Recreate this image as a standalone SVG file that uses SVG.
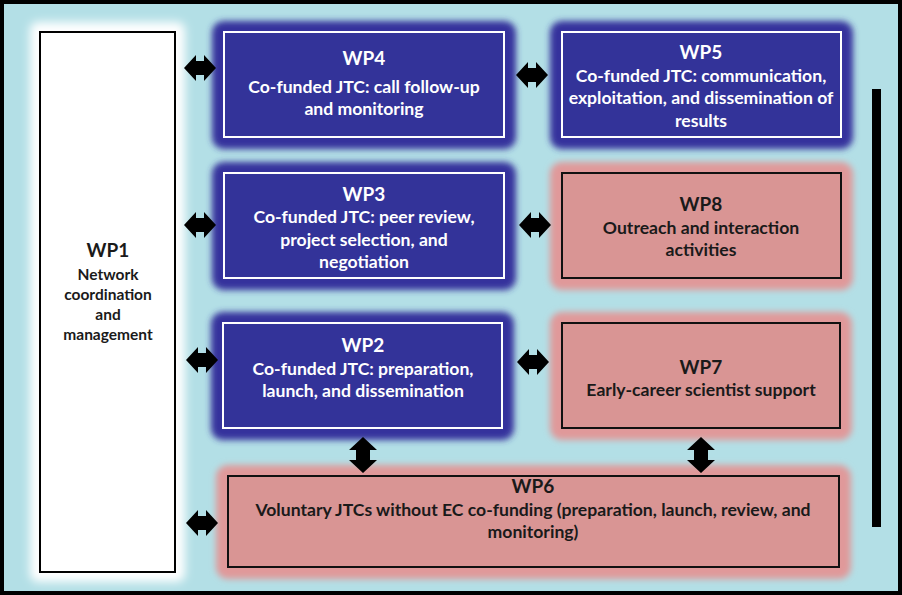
<svg xmlns="http://www.w3.org/2000/svg" width="902" height="595" viewBox="0 0 902 595">
<defs>
<filter id="glow" x="-20%" y="-30%" width="140%" height="160%"><feGaussianBlur stdDeviation="3"/></filter>
<filter id="glowW" x="-30%" y="-10%" width="160%" height="120%"><feGaussianBlur stdDeviation="5"/></filter>
<path id="harrow" d="M-16,0 L-4,-13 L-4,-7 L4,-7 L4,-13 L16,0 L4,13 L4,7 L-4,7 L-4,13 Z"/>
<path id="varrow" d="M0,-18 L-14,-5 L-7,-5 L-7,5 L-14,5 L0,18 L14,5 L7,5 L7,-5 L14,-5 Z"/>
</defs>
<style>
.bg{fill:#b3dfe6}
.gB{fill:#34309c;filter:url(#glow)}
.gP{fill:#e0999a;filter:url(#glow)}
.gW{fill:#ffffff;filter:url(#glowW)}
.bB{fill:#333399;stroke:#ffffff;stroke-width:2}
.bP{fill:#d99594;stroke:#111;stroke-width:2}
.bW{fill:#ffffff;stroke:#000;stroke-width:2}
text{font-family:Lato,"Open Sans","Liberation Sans",sans-serif;font-weight:bold;text-anchor:middle}
.tw{fill:#ffffff}
.tk{fill:#1a1a1a}
.h{font-size:19px}
.b{font-size:17.6px}
.s{font-size:15.5px}
.arr{fill:#000}
</style>
<rect x="0" y="0" width="902" height="595" class="bg"/>
<rect x="2" y="2" width="898" height="591" fill="none" stroke="#000" stroke-width="4"/>

<g id="wp1">
<rect x="30" y="22" width="155" height="560" rx="8" class="gW"/>
<rect x="40" y="32" width="135" height="540" class="bW"/>
<text x="108" y="257" class="tk h">WP1</text>
<text x="108" y="280" class="tk s">Network</text>
<text x="108" y="300" class="tk s">coordination</text>
<text x="108" y="320" class="tk s">and</text>
<text x="108" y="340" class="tk s">management</text>
</g>

<g id="wp4">
<rect x="212" y="21" width="304" height="128" rx="12" class="gB"/>
<rect x="224" y="32" width="280" height="105" class="bB"/>
<text x="364" y="65" class="tw h">WP4</text>
<text x="364" y="93" class="tw b">Co-funded JTC: call follow-up</text>
<text x="364" y="115" class="tw b">and monitoring</text>
</g>

<g id="wp5">
<rect x="550" y="21" width="303" height="128" rx="12" class="gB"/>
<rect x="562" y="32" width="279" height="105" class="bB"/>
<text x="701" y="59" class="tw h">WP5</text>
<text x="701" y="82" class="tw b">Co-funded JTC: communication,</text>
<text x="701" y="104" class="tw b">exploitation, and dissemination of</text>
<text x="701" y="127" class="tw b">results</text>
</g>

<g id="wp3">
<rect x="212" y="162" width="304" height="128" rx="12" class="gB"/>
<rect x="224" y="173" width="280" height="105" class="bB"/>
<text x="364" y="201" class="tw h">WP3</text>
<text x="364" y="223" class="tw b">Co-funded JTC: peer review,</text>
<text x="364" y="246" class="tw b">project selection, and</text>
<text x="364" y="268" class="tw b">negotiation</text>
</g>

<g id="wp8">
<rect x="550" y="162" width="303" height="128" rx="12" class="gP"/>
<rect x="562" y="173" width="279" height="105" class="bP"/>
<text x="701" y="211" class="tk h">WP8</text>
<text x="701" y="234" class="tk b">Outreach and interaction</text>
<text x="701" y="256" class="tk b">activities</text>
</g>

<g id="wp2">
<rect x="211" y="312" width="303" height="128" rx="12" class="gB"/>
<rect x="223" y="323" width="279" height="105" class="bB"/>
<text x="363" y="352" class="tw h">WP2</text>
<text x="363" y="375" class="tw b">Co-funded JTC: preparation,</text>
<text x="363" y="397" class="tw b">launch, and dissemination</text>
</g>

<g id="wp7">
<rect x="550" y="312" width="302" height="128" rx="12" class="gP"/>
<rect x="562" y="323" width="278" height="105" class="bP"/>
<text x="701" y="374" class="tk h">WP7</text>
<text x="701" y="396" class="tk b">Early-career scientist support</text>
</g>

<g id="wp6">
<rect x="216" y="465" width="635" height="114" rx="12" class="gP"/>
<rect x="228" y="476" width="611" height="91" class="bP"/>
<text x="533" y="493" class="tk h">WP6</text>
<text x="533" y="516" class="tk b">Voluntary JTCs without EC co-funding (preparation, launch, review, and</text>
<text x="533" y="538" class="tk b">monitoring)</text>
</g>

<g id="connectors" class="arr">
<use href="#harrow" x="200" y="68"/>
<use href="#harrow" x="532" y="75"/>
<use href="#harrow" x="200" y="225"/>
<use href="#harrow" x="535" y="225"/>
<use href="#harrow" x="202" y="360"/>
<use href="#harrow" x="533" y="362"/>
<use href="#harrow" x="202" y="523"/>
<use href="#varrow" x="363" y="455"/>
<use href="#varrow" x="701" y="455"/>
<rect x="872" y="89" width="9" height="438"/>
</g>
</svg>
